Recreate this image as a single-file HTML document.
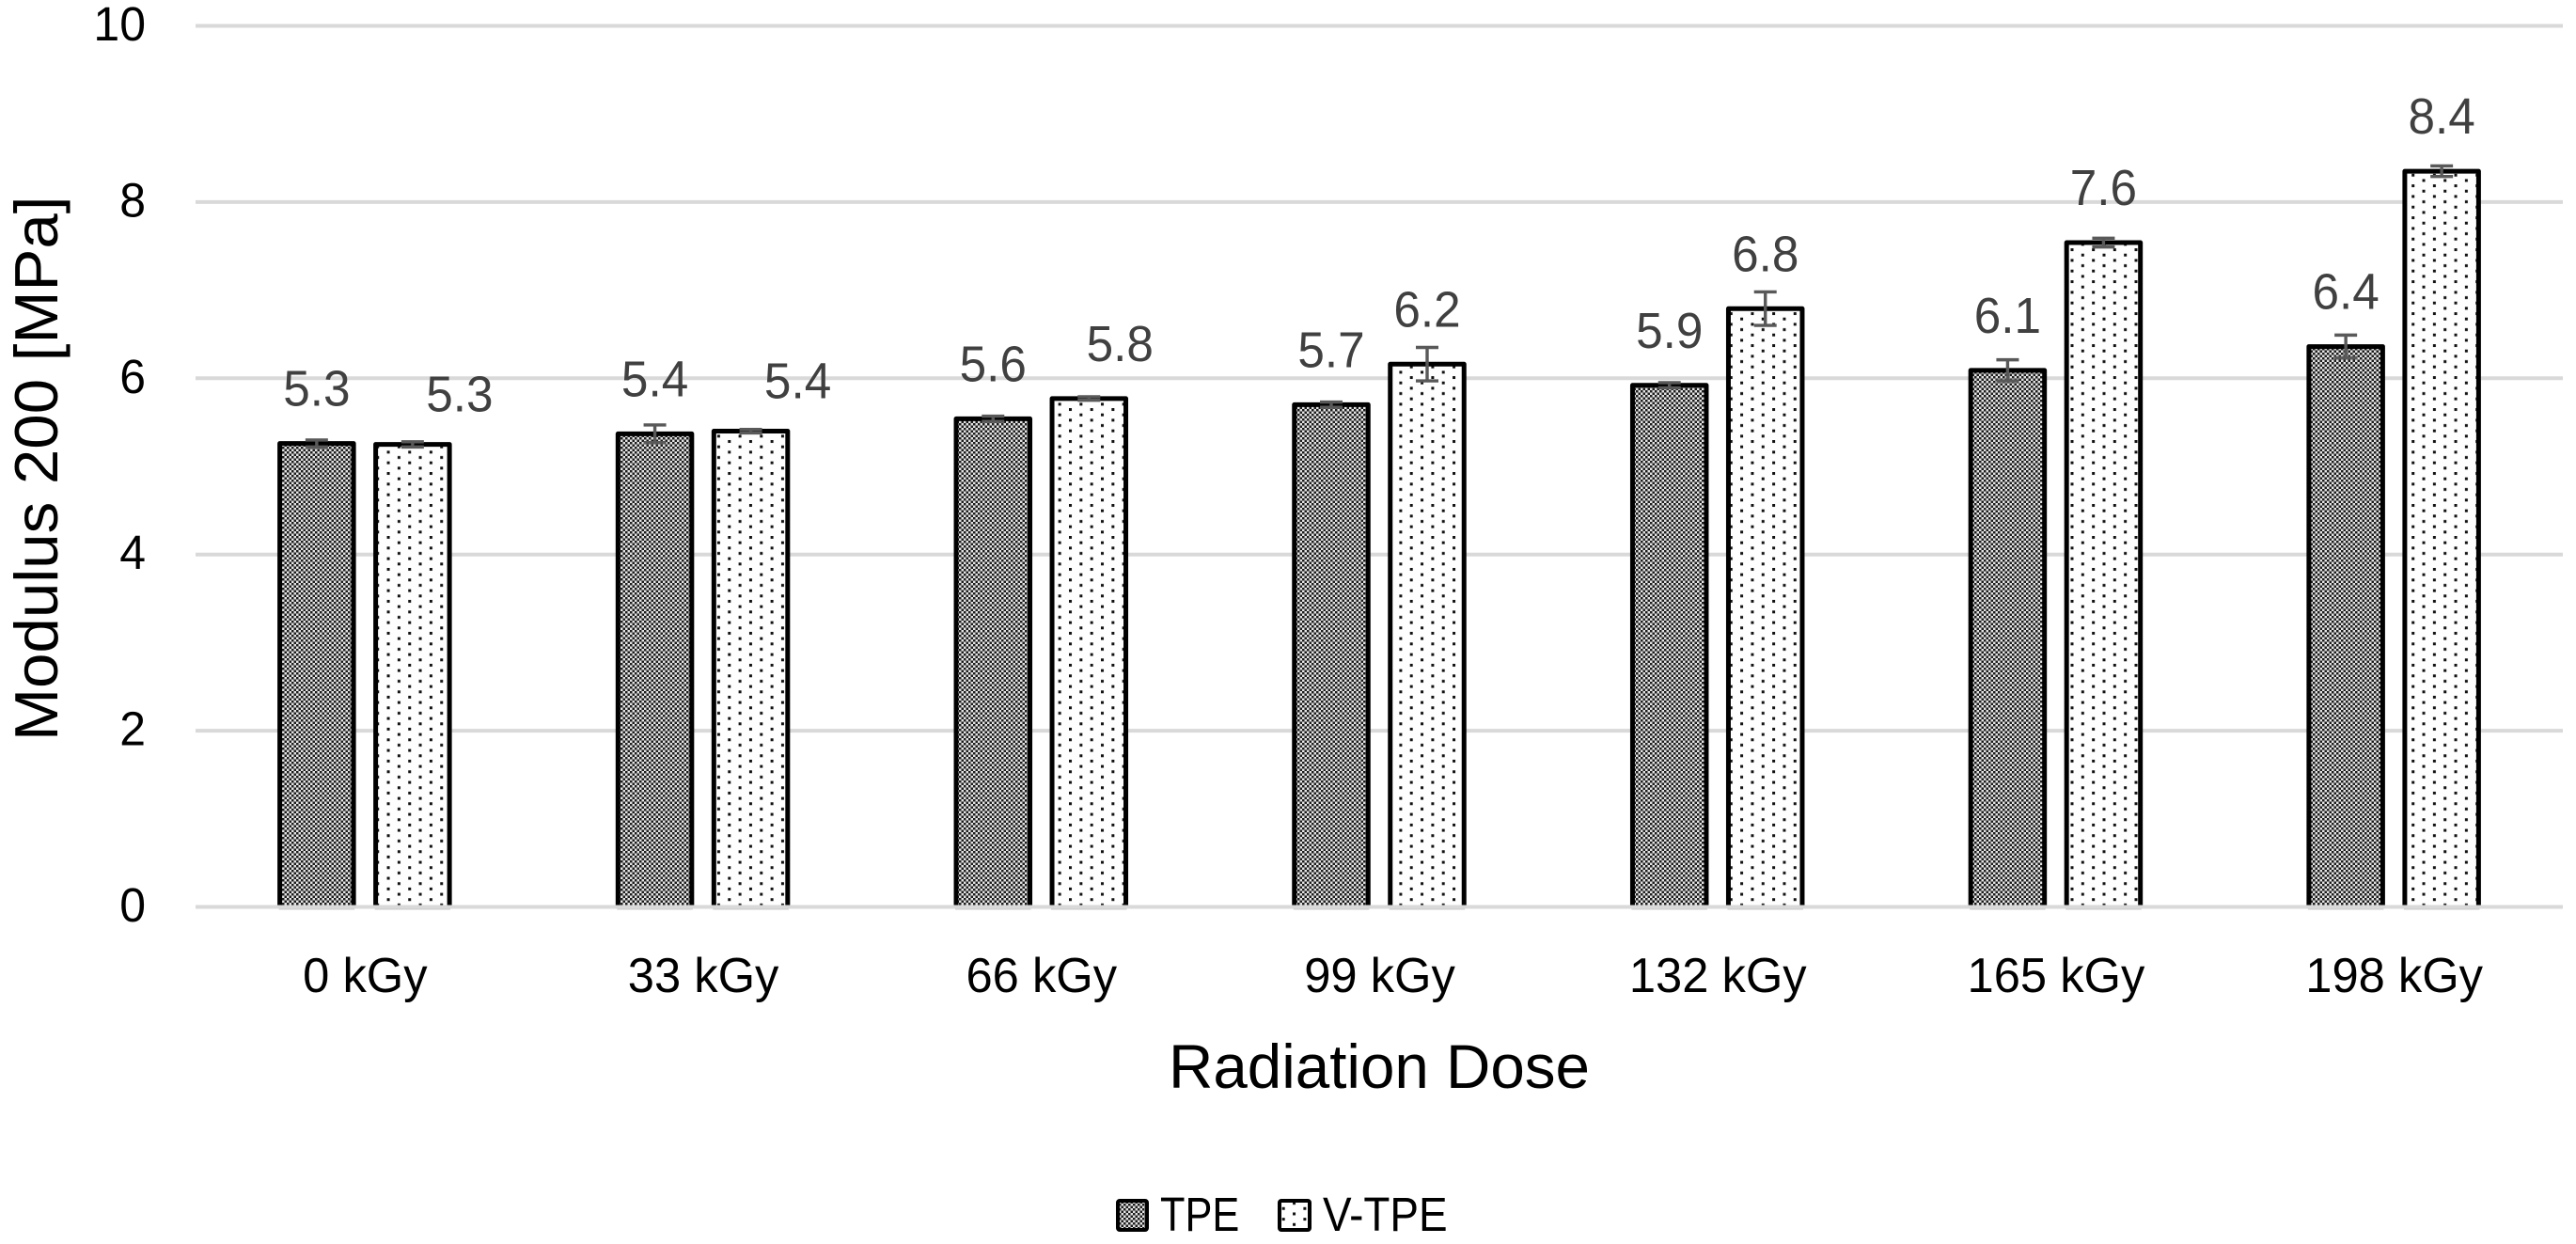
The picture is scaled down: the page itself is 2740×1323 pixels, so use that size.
<!DOCTYPE html>
<html lang="en">
<head>
<meta charset="utf-8">
<title>Modulus 200 vs Radiation Dose</title>
<style>
  html, body { margin: 0; padding: 0; background: #fff; }
  body { width: 2740px; height: 1323px; overflow: hidden; }
  svg { display: block; }
  text { font-family: "Liberation Sans", sans-serif; }
</style>
</head>
<body>
<svg id="chart" xmlns="http://www.w3.org/2000/svg" width="2740" height="1323" viewBox="0 0 2740 1323">
  <defs>
    <pattern id="checker" patternUnits="userSpaceOnUse" width="5" height="5">
      <rect width="5" height="5" fill="#e4e4e4"/>
      <rect width="2.5" height="2.5" fill="#1c1c1c"/>
      <rect x="2.5" y="2.5" width="2.5" height="2.5" fill="#1c1c1c"/>
    </pattern>
    <pattern id="dots" patternUnits="userSpaceOnUse" width="22.67" height="11.33" patternTransform="translate(3.5 3.5)">
      <rect width="22.67" height="11.33" fill="#fefefe"/>
      <rect x="0" y="0" width="3" height="3" fill="#111"/>
      <rect x="11.33" y="5.67" width="3" height="3" fill="#111"/>
    </pattern>
  </defs>
  <g id="grid"></g>
  <g id="yticks"></g>
  <g id="bars"></g>
  <g id="baseline"></g>
  <g id="errors"></g>
  <g id="labels"></g>
  <g id="xticks"></g>
  <text transform="translate(61 788) rotate(-90) scale(1.035 1)" font-size="65" fill="#000">Modulus 200 [MPa]</text>
  <text transform="translate(1467 1157) scale(0.993 1)" text-anchor="middle" font-size="66" fill="#000">Radiation Dose</text>
  <g>
    <g>
      <rect x="1189" y="1277" width="31" height="31" rx="2" fill="url(#checker)" stroke="#000" stroke-width="4"/>
      <text transform="translate(1234 1309) scale(0.85 1)" font-size="51" fill="#000">TPE</text>
    </g>
    <g>
      <rect x="1361" y="1277" width="32" height="31" rx="2" fill="url(#dots)" stroke="#000" stroke-width="4"/>
      <text transform="translate(1407 1309) scale(0.9 1)" font-size="51" fill="#000">V-TPE</text>
    </g>
  </g>
</svg>
<script>
// Chart data
var categories = ['0 kGy', '33 kGy', '66 kGy', '99 kGy', '132 kGy', '165 kGy', '198 kGy'];
var tpeValues = [5.26, 5.37, 5.54, 5.70, 5.92, 6.09, 6.36];
var vtpeValues = [5.25, 5.40, 5.77, 6.16, 6.79, 7.54, 8.35];
var tpeErrors = [0.04, 0.10, 0.03, 0.03, 0.03, 0.12, 0.13];
var vtpeErrors = [0.03, 0.02, 0.02, 0.19, 0.19, 0.05, 0.06];
var tpeLabels = ['5.3', '5.4', '5.6', '5.7', '5.9', '6.1', '6.4'];
var vtpeLabels = ['5.3', '5.4', '5.8', '6.2', '6.8', '7.6', '8.4'];
var yTickValues = [0, 2, 4, 6, 8, 10];

// Manually dragged data labels in the source chart (offset from default spot)
var vtpeLabelShiftX = [50, 50, 33, 0, 0, 0, 0];
var vtpeLabelShiftY = [5, 5, 0, 0, 0, 0, 0];

var SVGNS = 'http://www.w3.org/2000/svg';
var plotLeft = 208, plotRight = 2726, yZero = 964.5, yPerUnit = 93.7;
var barWidth = 78.5, barOffset = 51;

function yScale(v) { return yZero - v * yPerUnit; }
function xCenter(i) { return plotLeft + (plotRight - plotLeft) / categories.length * (i + 0.5); }
function make(tag, attrs, parent, content) {
  var el = document.createElementNS(SVGNS, tag);
  for (var k in attrs) el.setAttribute(k, attrs[k]);
  if (content !== undefined) el.textContent = content;
  parent.appendChild(el);
  return el;
}

var gridG = document.getElementById('grid');
var yTickG = document.getElementById('yticks');
yTickValues.forEach(function (t) {
  var y = yScale(t);
  if (t !== 0) {
    var line = make('line', { x1: plotLeft, x2: plotRight, y1: y, y2: y, stroke: '#d9d9d9', 'stroke-width': 4 }, gridG);
    
    
  }
  var lab = make('text', { transform: 'translate(155 ' + (y + 15.5) + ') scale(0.98 1)', 'text-anchor': 'end', 'font-size': 51, fill: '#000' }, yTickG, String(t));
  
  
});

var barsG = document.getElementById('bars');
var baseG = document.getElementById('baseline');
var errG = document.getElementById('errors');
var labelG = document.getElementById('labels');
var xTickG = document.getElementById('xticks');

function drawSeries(key, values, errors, labels, offset, fill, shiftX, shiftY) {
  values.forEach(function (v, i) {
    var cx = xCenter(i) + offset;
    var top = yScale(v);
    var bar = make('path', {
      d: 'M' + (cx - barWidth / 2) + ' ' + yZero + 'V' + top + 'H' + (cx + barWidth / 2) + 'V' + yZero + 'Z',
      fill: fill, stroke: 'none'
    }, barsG);
    
    
    var outline = make('path', {
      d: 'M' + (cx - barWidth / 2) + ' ' + yZero + 'V' + top + 'H' + (cx + barWidth / 2) + 'V' + yZero,
      fill: 'none', stroke: '#000', 'stroke-width': 5, 'stroke-linejoin': 'round'
    }, barsG);
    
    

    var foot = make('rect', { x: cx - barWidth / 2 - 1, y: yZero, width: barWidth + 2, height: 3, fill: '#cbcbcb' }, baseG);
    
    

    var err = errors[i];
    var yHi = yScale(v + err), yLo = yScale(v - err);
    var stem = make('line', { x1: cx, x2: cx, y1: yHi, y2: yLo, stroke: '#595959', 'stroke-width': 3.4 }, errG);
    
    
    var capHi = make('line', { x1: cx - 12, x2: cx + 12, y1: yHi, y2: yHi, stroke: '#595959', 'stroke-width': 3.4 }, errG);
    
    
    var capLo = make('line', { x1: cx - 12, x2: cx + 12, y1: yLo, y2: yLo, stroke: '#595959', 'stroke-width': 3.4 }, errG);
    
    

    var lx = cx + shiftX[i], ly = top - 40 + shiftY[i];
    var lab = make('text', {
      transform: 'translate(' + lx + ' ' + ly + ') scale(0.95 1)',
      'text-anchor': 'middle', 'font-size': 54, fill: '#404040'
    }, labelG, labels[i]);
    
    
  });
}

var noShift = categories.map(function () { return 0; });
drawSeries('tpe', tpeValues, tpeErrors, tpeLabels, -barOffset, 'url(#checker)', noShift, noShift);
drawSeries('v-tpe', vtpeValues, vtpeErrors, vtpeLabels, barOffset, 'url(#dots)', vtpeLabelShiftX, vtpeLabelShiftY);

var axisLine = make('rect', { x: plotLeft, y: yZero - 2, width: plotRight - plotLeft, height: 4, fill: '#d9d9d9' }, baseG);



categories.forEach(function (c, i) {
  var lab = make('text', {
    transform: 'translate(' + (xCenter(i) + 0.5) + ' 1055) scale(0.975 1)',
    'text-anchor': 'middle', 'font-size': 52, fill: '#000'
  }, xTickG, c);
  
  
});
</script>
</body>
</html>
